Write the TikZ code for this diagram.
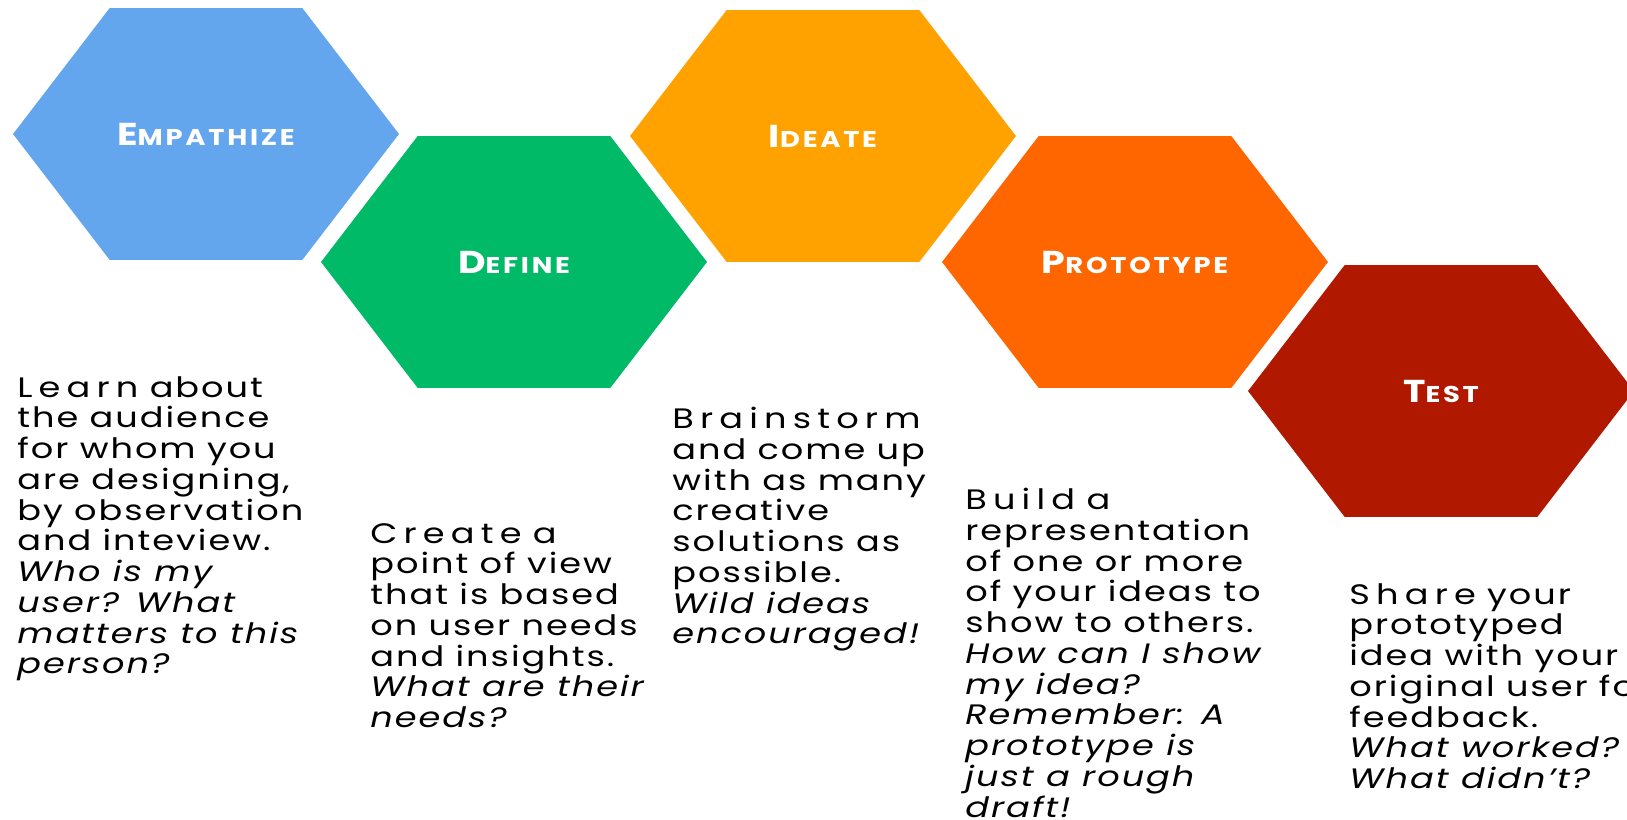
\documentclass[tikz,border=0pt]{standalone}
\usepackage{fontspec}
\setmainfont{Poppins}
\usepackage{tikz}
\usetikzlibrary{shapes.symbols}
\usetikzlibrary{positioning}
\usepackage{xcolor}
\definecolor{empathize}{RGB}{100,166,237}
\definecolor{define}{RGB}{0,186,104}
\definecolor{ideate}{RGB}{255,162,0}
\definecolor{prototype}{RGB}{255,102,0}
\definecolor{test}{RGB}{176,24,0}

\newfontfamily\widefont[FakeStretch=1.25, LetterSpace=7]{Poppins}
\newfontfamily\labelfont[FakeStretch=1.2, LetterSpace=12]{Poppins}
\newcommand{\stepname}[2]{{\labelfont\bfseries\fontsize{18}{18}\selectfont #1\fontsize{13}{13}\selectfont #2}}
\newcommand{\firstword}[1]{{\addfontfeature{LetterSpace=22}#1}}

\begin{document}
\begin{tikzpicture}[x=0.02cm, y=-0.02cm]
      \tikzstyle{hex}=[signal, signal to=east and west, signal pointer angle=105, minimum width=7.72cm, minimum height=5.04cm, inner sep=0pt, text=white]
      \tikzstyle{steptext}=[anchor=north west, align=left, inner sep=0pt, font=\widefont\fontsize{16}{17.5}\selectfont]

      \useasboundingbox[fill=white] (0,0) rectangle (1627,820);

      \node[hex, fill=empathize] (empathize) at (206,134) {\stepname{E}{MPATHIZE}};
      \node[hex, fill=define] (define) at (514,262) {\stepname{D}{EFINE}};
      \node[hex, fill=ideate] (ideate) at (823,136) {\stepname{I}{DEATE}};
      \node[hex, fill=prototype] (prototype) at (1135,262) {\stepname{P}{ROTOTYPE}};
      \node[hex, fill=test] (test) at (1441,391) {\stepname{T}{EST}};

      \node[steptext] (learn) at (17,376) {\firstword{Learn} about\\the audience\\for whom you\\are designing,\\by observation\\and inteview.\\\textit{Who is my}\\\textit{user? What}\\\textit{matters to this}\\\textit{person?}};
      \node[steptext] (create) at (370,523) {\firstword{Create} a\\point of view\\that is based\\on user needs\\and insights.\\\textit{What are their}\\\textit{needs?}};
      \node[steptext] (brainstorm) at (672,407) {\firstword{Brainstorm}\\and come up\\with as many\\creative\\solutions as\\possible.\\\textit{Wild ideas}\\\textit{encouraged!}};
      \node[steptext] (build) at (965,488) {\firstword{Build} a\\representation\\of one or more\\of your ideas to\\show to others.\\\textit{How can I show}\\\textit{my idea?}\\\textit{Remember: A}\\\textit{prototype is}\\\textit{just a rough}\\\textit{draft!}};
      \node[steptext] (share) at (1349,583) {\firstword{Share} your\\prototyped\\idea with your\\original user for\\feedback.\\\textit{What worked?}\\\textit{What didn’t?}};
    \end{tikzpicture}
\end{document}
